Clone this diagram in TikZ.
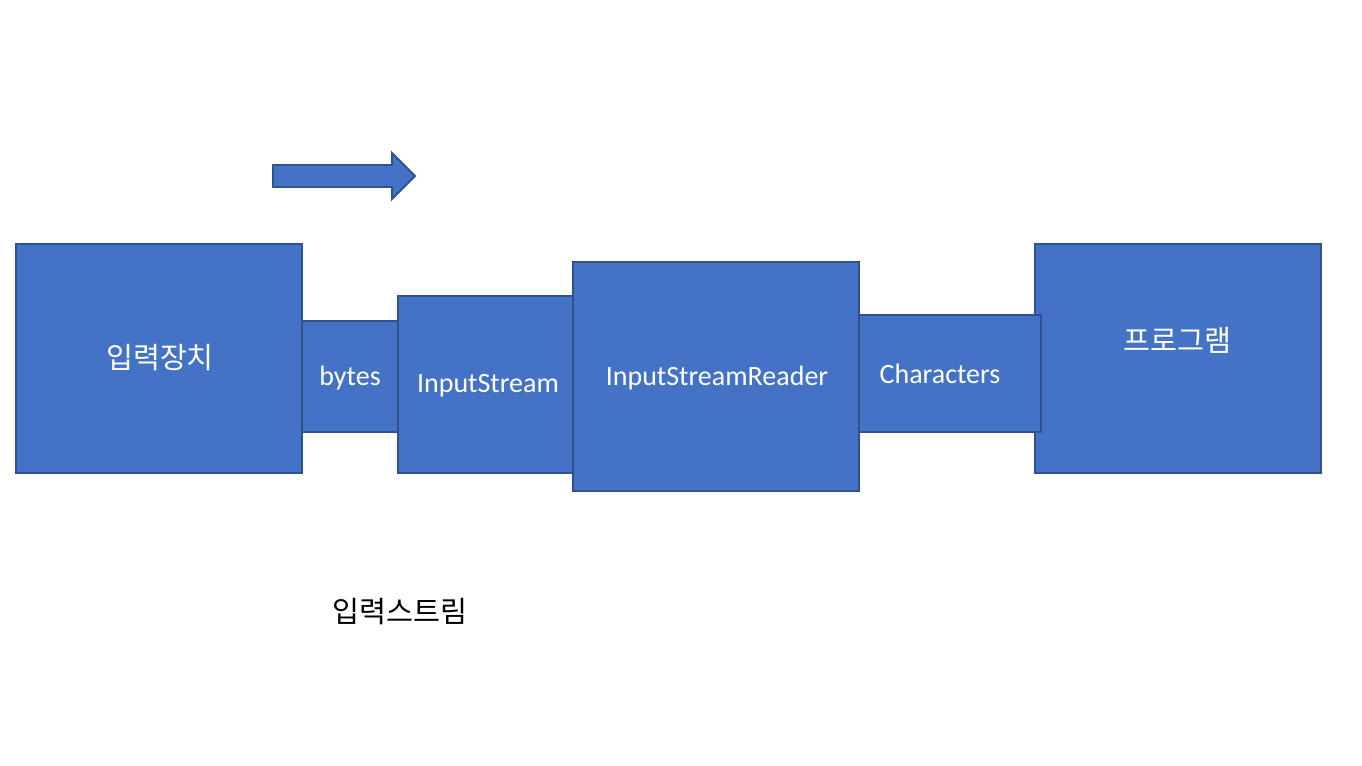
\documentclass[tikz,border=0pt]{standalone}
\usepackage{fontspec}
\setmainfont{Carlito}
\newfontfamily\kr{Noto Sans CJK KR}
\usepackage{tikz}
\usetikzlibrary{positioning}
\definecolor{boxfill}{HTML}{4472C4}
\definecolor{boxline}{HTML}{2F528F}

\begin{document}
\begin{tikzpicture}[x=0.75pt,y=-0.75pt,
                    box/.style={rectangle,draw=boxline,fill=boxfill,line width=1.4pt,inner sep=0pt},
                    txt/.style={inner sep=0pt,text=white,font=\fontsize{21}{25}\selectfont},
                    krtxt/.style={inner sep=0pt,text=white,font=\fontsize{22}{26}\kr}]

  \useasboundingbox (0,0) rectangle (1362,766);

  % flow direction
  \draw[draw=boxline,fill=boxfill,line width=1.4pt,line join=miter]
        (273,165) -- (392,165) -- (392,153) -- (415,176) -- (392,199)
        -- (392,187) -- (273,187) -- cycle;

  \node[box,minimum width=214.5pt,minimum height=171.75pt] at(159,358.5) (device) {};
  \node[box,minimum width=72pt,minimum height=83.25pt] at(350,376.5) (bytes) {};
  \node[box,minimum width=131.25pt,minimum height=132.75pt] at(485.5,384.5) (istream) {};
  \node[box,minimum width=214.5pt,minimum height=171.75pt] at(716,376.5) (reader) {};
  \node[box,minimum width=214.5pt,minimum height=171.75pt] at(1178,358.5) (program) {};
  \node[box,minimum width=136.5pt,minimum height=87.75pt] at(950,373.5) (chars) {};

  % labels
  \node[krtxt] at(160,358) (devicetxt) {입력장치};
  \node[txt] at(350,378) (bytestxt) {bytes};
  \node[txt] at(488,386) (istreamtxt) {InputStream};
  \node[txt] at(717,378) (readertxt) {InputStreamReader};
  \node[txt] at(940,374) (charstxt) {Characters};
  \node[krtxt] at(1177,340) (programtxt) {프로그램};

  \node[krtxt,text=black] at(400,612) (streamtxt) {입력스트림};

\end{tikzpicture}
\end{document}
